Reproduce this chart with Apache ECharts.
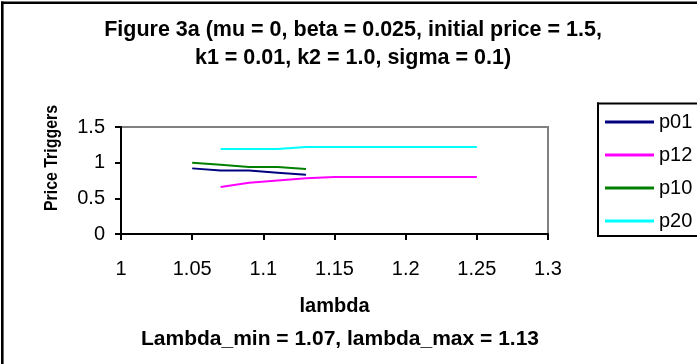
<!DOCTYPE html>
<html>
<head>
<meta charset="utf-8">
<script src="https://cdn.jsdelivr.net/npm/echarts@6/dist/echarts.min.js"></script>
<style>
  html, body { margin: 0; padding: 0; background: #fff; overflow: hidden; }
  #chart { width: 697px; height: 364px; }
</style>
</head>
<body>
<div id="chart"></div>
<script>
// lambda values at which the price triggers were computed
const lambdas = [1.05, 1.07, 1.09, 1.11, 1.13, 1.15, 1.17, 1.19, 1.21, 1.23, 1.25];

// price trigger series (null where not defined)
const p01 = [0.92, 0.89, 0.89, 0.86, 0.83, null, null, null, null, null, null];
const p12 = [null, 0.66, 0.72, 0.75, 0.78, 0.80, 0.80, 0.80, 0.80, 0.80, 0.80];
const p10 = [1.00, 0.97, 0.94, 0.94, 0.91, null, null, null, null, null, null];
const p20 = [null, 1.19, 1.19, 1.19, 1.22, 1.22, 1.22, 1.22, 1.22, 1.22, 1.22];

const seriesNames = ['p01', 'p12', 'p10', 'p20'];
const seriesColors = ['#000080', '#ff00ff', '#008000', '#00ffff'];

const xTicks = [1, 1.05, 1.1, 1.15, 1.2, 1.25, 1.3];
const yTicks = [0, 0.5, 1, 1.5];

const FONT = 'Liberation Sans, Arial, sans-serif';

function pairs(vals) {
  return lambdas.map((x, i) => [x, vals[i]]).filter(p => p[1] !== null);
}

const chart = echarts.init(document.getElementById('chart'), null, { renderer: 'canvas' });

chart.setOption({
  animation: false,
  backgroundColor: '#ffffff',
  title: [
    {
      text: 'Figure 3a (mu = 0, beta = 0.025, initial price = 1.5,\nk1 = 0.01, k2 = 1.0, sigma = 0.1)',
      left: 348, top: 11, textAlign: 'center',
      textStyle: { fontFamily: FONT, fontSize: 21.5, fontWeight: 'bold', color: '#000', lineHeight: 28 }
    },
    {
      text: 'Lambda_min = 1.07, lambda_max = 1.13',
      left: 335, top: 324, textAlign: 'center',
      textStyle: { fontFamily: FONT, fontSize: 21, fontWeight: 'bold', color: '#000' }
    }
  ],
  graphic: [
    // chart frame: left and top edges
    {
      type: 'line', silent: true, z: 100,
      shape: { x1: 2.3, y1: 1.5, x2: 2.3, y2: 364 },
      style: { stroke: '#000', lineWidth: 2.6 }
    },
    {
      type: 'line', silent: true, z: 100,
      shape: { x1: 1, y1: 2.8, x2: 697, y2: 2.8 },
      style: { stroke: '#000', lineWidth: 2.6 }
    },
    // legend frame, open on the right
    {
      type: 'line', silent: true, z: 100,
      shape: { x1: 597, y1: 103.5, x2: 697, y2: 103.5 },
      style: { stroke: '#000', lineWidth: 2 }
    },
    {
      type: 'line', silent: true, z: 100,
      shape: { x1: 598, y1: 102.5, x2: 598, y2: 237 },
      style: { stroke: '#000', lineWidth: 2 }
    },
    {
      type: 'line', silent: true, z: 100,
      shape: { x1: 597, y1: 236, x2: 697, y2: 236 },
      style: { stroke: '#000', lineWidth: 2 }
    },
    {
      type: 'text', x: 52, y: 158, rotation: Math.PI / 2, scaleX: 0.86,
      style: {
        text: 'Price Triggers', fontFamily: FONT, fontSize: 18.5, fontWeight: 'bold',
        fill: '#000', align: 'center', verticalAlign: 'middle'
      }
    }
  ],
  legend: {
    data: seriesNames,
    orient: 'vertical',
    left: 599, top: 106,
    padding: [6, 0, 0, 6],
    itemGap: 13,
    itemWidth: 49,
    itemHeight: 3,
    icon: 'rect',
    textStyle: { fontFamily: FONT, fontSize: 20, color: '#000', lineHeight: 20 }
  },
  grid: {
    left: 121, right: 149, top: 127, bottom: 130,
    show: true, borderColor: '#808080', borderWidth: 2, backgroundColor: '#fff'
  },
  xAxis: {
    type: 'value',
    min: xTicks[0], max: xTicks[xTicks.length - 1], interval: 0.05,
    name: 'lambda', nameLocation: 'middle', nameGap: 62,
    nameTextStyle: { fontFamily: FONT, fontSize: 20, fontWeight: 'bold', color: '#000' },
    axisLine: { show: true, lineStyle: { color: '#000', width: 2 } },
    axisTick: { show: true, inside: false, length: 6, lineStyle: { color: '#000', width: 2 } },
    axisLabel: {
      margin: 25, fontFamily: FONT, fontSize: 20, color: '#000',
      formatter: v => String(+v.toFixed(2))
    },
    splitLine: { show: false }
  },
  yAxis: {
    type: 'value',
    min: yTicks[0], max: yTicks[yTicks.length - 1], interval: 0.5,
    axisLine: { show: true, lineStyle: { color: '#000', width: 2 } },
    axisTick: { show: true, inside: false, length: 6, lineStyle: { color: '#000', width: 2 } },
    axisLabel: {
      margin: 16, fontFamily: FONT, fontSize: 20, color: '#000', padding: [7, 0, 0, 0],
      formatter: v => String(+v.toFixed(2))
    },
    splitLine: { show: false }
  },
  series: [p01, p12, p10, p20].map((vals, i) => ({
    name: seriesNames[i],
    type: 'line',
    data: pairs(vals),
    symbol: 'none',
    lineStyle: { color: seriesColors[i], width: 2 },
    itemStyle: { color: seriesColors[i] }
  }))
});
</script>
</body>
</html>
